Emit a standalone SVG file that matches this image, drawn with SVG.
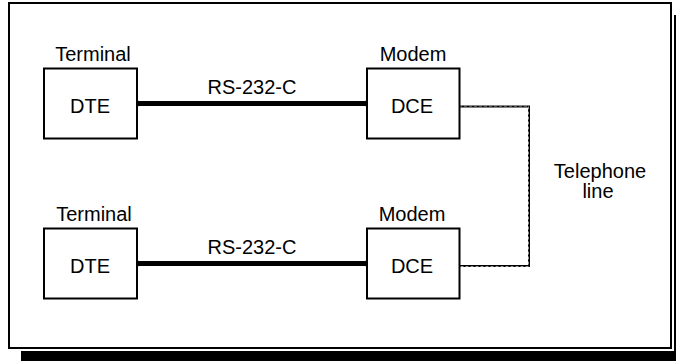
<svg xmlns="http://www.w3.org/2000/svg" width="676" height="362" viewBox="0 0 676 362">
<style>
text{font-family:"Liberation Sans",Arial,sans-serif;font-size:20px;fill:#000;text-anchor:middle}
.box{fill:#fff;stroke:#000;stroke-width:2}
.cable{stroke:#000;stroke-width:5;fill:none}
.phone{stroke:#000;stroke-width:2;fill:none}
.phone2{stroke:#999;stroke-width:1;fill:none;stroke-dasharray:3 2}
</style>
<rect width="676" height="362" fill="#fff"/>
<g id="frame">
<rect x="21" y="351" width="655" height="10" fill="#000"/>
<rect x="674" y="15" width="2" height="346" fill="#000"/>
<rect x="9" y="3" width="662" height="345" fill="#fff" stroke="#000" stroke-width="2"/>
</g>
<g id="connectors">
<line class="cable" x1="137" y1="103.5" x2="367" y2="103.5"/>
<circle cx="137" cy="103.5" r="3" fill="#000"/>
<circle cx="367" cy="103.5" r="3" fill="#000"/>
<text x="252" y="94">RS-232-C</text>
<line class="cable" x1="137" y1="263.5" x2="367" y2="263.5"/>
<circle cx="137" cy="263.5" r="3" fill="#000"/>
<circle cx="367" cy="263.5" r="3" fill="#000"/>
<text x="252" y="254">RS-232-C</text>
<path class="phone" d="M459,106.5 H529 V266 H459"/>
<path class="phone2" d="M459,106 H528.5 V266.5 H459"/>
<text x="600" y="178">Telephone</text>
<text x="598" y="198">line</text>
</g>
<g id="terminal1">
<text x="93" y="61">Terminal</text>
<rect class="box" x="44" y="68.5" width="93" height="70"/>
<text x="90" y="113">DTE</text>
</g>
<g id="modem1">
<text x="413" y="61">Modem</text>
<rect class="box" x="367" y="68.5" width="92.5" height="70"/>
<text x="412" y="113">DCE</text>
</g>
<g id="terminal2">
<text x="94" y="221">Terminal</text>
<rect class="box" x="44" y="228.5" width="93" height="70"/>
<text x="90" y="273">DTE</text>
</g>
<g id="modem2">
<text x="412" y="221">Modem</text>
<rect class="box" x="367" y="228.5" width="92.5" height="70"/>
<text x="412" y="273">DCE</text>
</g>
</svg>
